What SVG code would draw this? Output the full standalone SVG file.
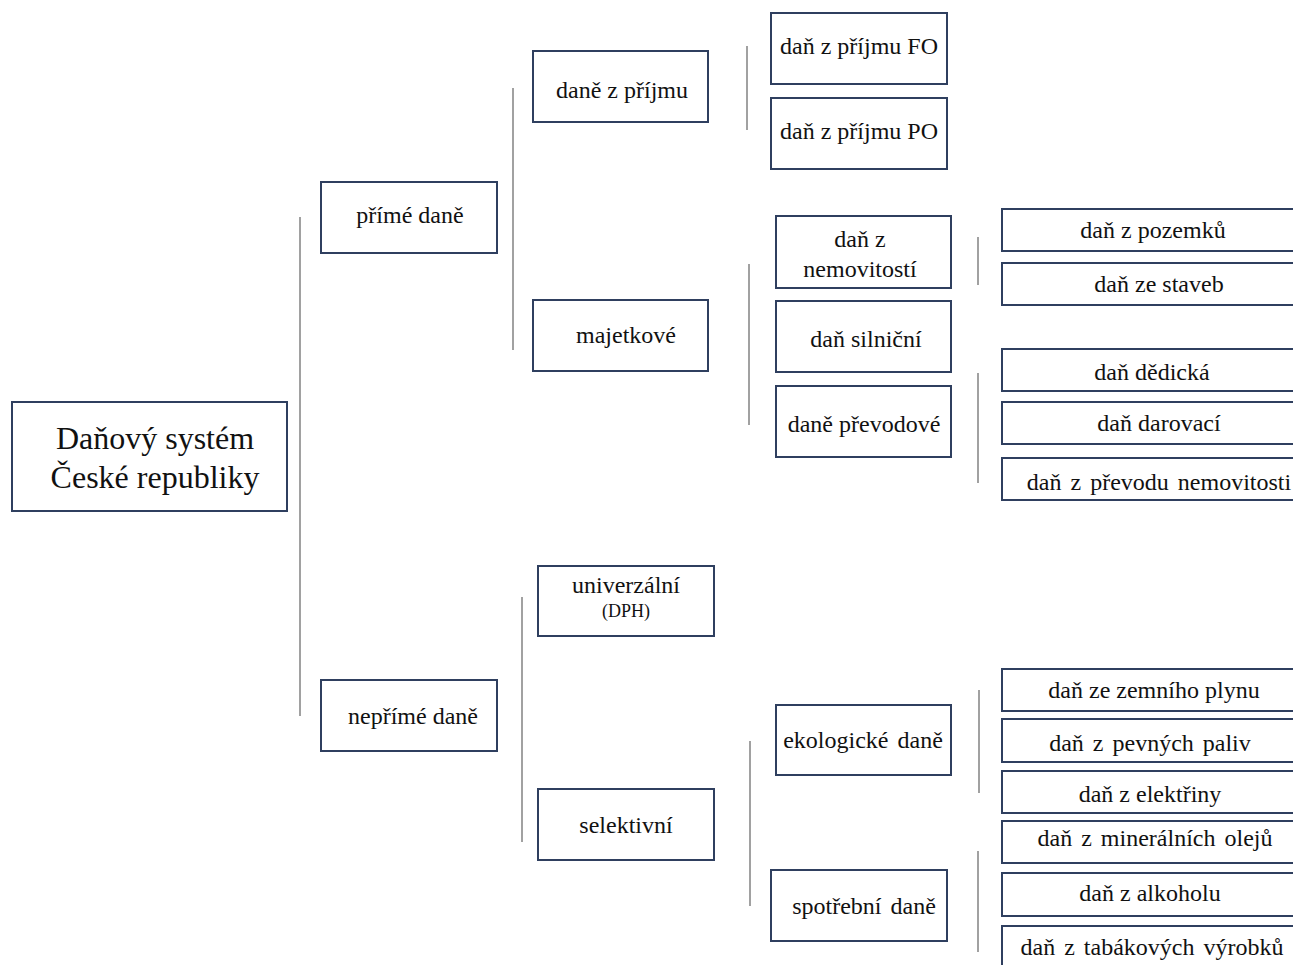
<svg xmlns="http://www.w3.org/2000/svg" width="1293" height="965" viewBox="0 0 1293 965">
<style>
.box{fill:#fff;stroke:#2f3f5f;stroke-width:2}
.ln{stroke:#8a8a8a;stroke-width:1.6;fill:none}
text{font-family:'Liberation Serif','Times New Roman',serif;fill:#111;text-anchor:middle;font-size:24px}
text.big{font-size:32px}
text.sm{font-size:18px}
text.ws{word-spacing:3px}
</style>
<rect width="1293" height="965" fill="#fff"/>
<g id="connectors">
<line class="ln" x1="300" y1="217" x2="300" y2="716"/>
<line class="ln" x1="513" y1="88" x2="513" y2="350"/>
<line class="ln" x1="747" y1="46" x2="747" y2="130"/>
<line class="ln" x1="749" y1="264" x2="749" y2="425"/>
<line class="ln" x1="978" y1="237" x2="978" y2="285"/>
<line class="ln" x1="978" y1="373" x2="978" y2="483"/>
<line class="ln" x1="522" y1="597" x2="522" y2="842"/>
<line class="ln" x1="750" y1="741" x2="750" y2="906"/>
<line class="ln" x1="979" y1="690" x2="979" y2="793"/>
<line class="ln" x1="978" y1="851" x2="978" y2="952"/>
</g>
<g id="root"><rect class="box" x="12" y="402" width="275" height="109"/><text class="big" x="155" y="449">Daňový systém</text><text class="big" x="155" y="488">České republiky</text></g>
<g id="prime"><rect class="box" x="321" y="182" width="176" height="71"/><text x="410" y="223">přímé daně</text></g>
<g id="neprime"><rect class="box" x="321" y="680" width="176" height="71"/><text x="413" y="724">nepřímé daně</text></g>
<g id="prijmu"><rect class="box" x="533" y="51" width="175" height="71"/><text x="622" y="98">daně z příjmu</text></g>
<g id="majetkove"><rect class="box" x="533" y="300" width="175" height="71"/><text x="626" y="343">majetkové</text></g>
<g id="fo"><rect class="box" x="771" y="13" width="176" height="71"/><text x="859" y="54">daň z příjmu FO</text></g>
<g id="po"><rect class="box" x="771" y="98" width="176" height="71"/><text x="859" y="139">daň z příjmu PO</text></g>
<g id="nemovitosti"><rect class="box" x="776" y="216" width="175" height="72"/><text x="860" y="247">daň z</text><text x="860" y="277">nemovitostí</text></g>
<g id="silnicni"><rect class="box" x="776" y="301" width="175" height="71"/><text x="866" y="347">daň silniční</text></g>
<g id="prevodove"><rect class="box" x="776" y="386" width="175" height="71"/><text x="864" y="432">daně převodové</text></g>
<g id="pozemku"><rect class="box" x="1002" y="209" width="300" height="42"/><text x="1153" y="238">daň z pozemků</text></g>
<g id="staveb"><rect class="box" x="1002" y="263" width="300" height="42"/><text x="1159" y="292">daň ze staveb</text></g>
<g id="dedicka"><rect class="box" x="1002" y="349" width="300" height="42"/><text x="1152" y="380">daň dědická</text></g>
<g id="darovaci"><rect class="box" x="1002" y="402" width="300" height="42"/><text x="1159" y="431">daň darovací</text></g>
<g id="prevodu"><rect class="box" x="1002" y="458" width="300" height="42"/><text class="ws" x="1159" y="490">daň z převodu nemovitosti</text></g>
<g id="univerzalni"><rect class="box" x="538" y="566" width="176" height="70"/><text x="626" y="593">univerzální</text><text class="sm" x="626" y="617">(DPH)</text></g>
<g id="selektivni"><rect class="box" x="538" y="789" width="176" height="71"/><text x="626" y="833">selektivní</text></g>
<g id="ekologicke"><rect class="box" x="776" y="705" width="175" height="70"/><text class="ws" x="863" y="748">ekologické daně</text></g>
<g id="spotrebni"><rect class="box" x="771" y="870" width="176" height="71"/><text class="ws" x="864" y="914">spotřební daně</text></g>
<g id="plyn"><rect class="box" x="1002" y="669" width="300" height="42"/><text x="1154" y="698">daň ze zemního plynu</text></g>
<g id="paliva"><rect class="box" x="1002" y="719" width="300" height="43"/><text class="ws" x="1150" y="751">daň z pevných paliv</text></g>
<g id="elektrina"><rect class="box" x="1002" y="771" width="300" height="42"/><text x="1150" y="802">daň z elektřiny</text></g>
<g id="oleje"><rect class="box" x="1002" y="821" width="300" height="42"/><text class="ws" x="1155" y="846">daň z minerálních olejů</text></g>
<g id="alkohol"><rect class="box" x="1002" y="873" width="300" height="43"/><text x="1150" y="901">daň z alkoholu</text></g>
<g id="tabak"><rect class="box" x="1002" y="926" width="300" height="45"/><text class="ws" x="1152" y="955">daň z tabákových výrobků</text></g>
</svg>
